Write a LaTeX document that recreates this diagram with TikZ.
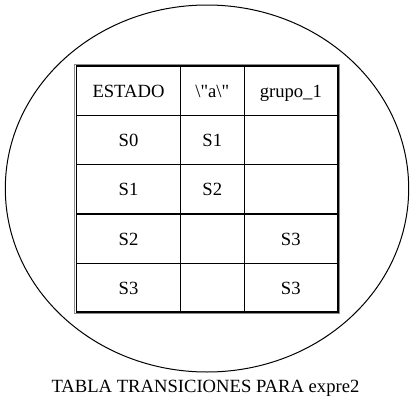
\documentclass[tikz,border=0pt]{standalone}
\usepackage{fontspec}
\setmainfont{Liberation Serif}[Ligatures=TeXOff]
\begin{document}
\begin{tikzpicture}[x=1bp,y=-1bp,
  cell/.style={inner sep=0pt,text height=12.4bp,text depth=0pt,anchor=center,font=\fontsize{18.7}{22}\selectfont},
  grid/.style={draw=black,line width=1.1bp},
  frameout/.style={draw=black!45,line width=1bp},
  framein/.style={draw=black,line width=1.6bp}]
\useasboundingbox (0,0) rectangle (414,409);
\draw[line width=1bp] (207,188.5) ellipse [x radius=201.7, y radius=183.5];
% table frame
\draw[frameout] (74.8,64.3) rectangle (339.2,313.7);
\draw[framein] (76.3,65.8) rectangle (337.7,312.2);
% grid lines
\draw[grid] (180.3,66) -- (180.3,312);
\draw[grid] (244.3,66) -- (244.3,312);
\draw[grid] (76.7,115.7) -- (337.3,115.7);
\draw[grid] (76.7,164.7) -- (337.3,164.7);
\draw[grid] (76.7,214) -- (337.3,214);
\draw[grid] (76.7,263.7) -- (337.3,263.7);
% cells
\node[cell] (h1) at (128.5,90.85) {ESTADO};
\node[cell] (h2) at (212.3,90.85) {\textbackslash\symbol{34}a\textbackslash\symbol{34}};
\node[cell] (h3) at (290.8,90.85) {grupo\_1};
\node[cell] (r1c1) at (128.5,140.2) {S0};
\node[cell] (r1c2) at (212.3,140.2) {S1};
\node[cell] (r2c1) at (128.5,189.35) {S1};
\node[cell] (r2c2) at (212.3,189.35) {S2};
\node[cell] (r3c1) at (128.5,238.85) {S2};
\node[cell] (r3c3) at (290.8,238.85) {S3};
\node[cell] (r4c1) at (128.5,287.85) {S3};
\node[cell] (r4c3) at (290.8,287.85) {S3};
\node[cell] (cap) at (205.5,386.5) {TABLA TRANSICIONES PARA expre2};
\end{tikzpicture}
\end{document}
